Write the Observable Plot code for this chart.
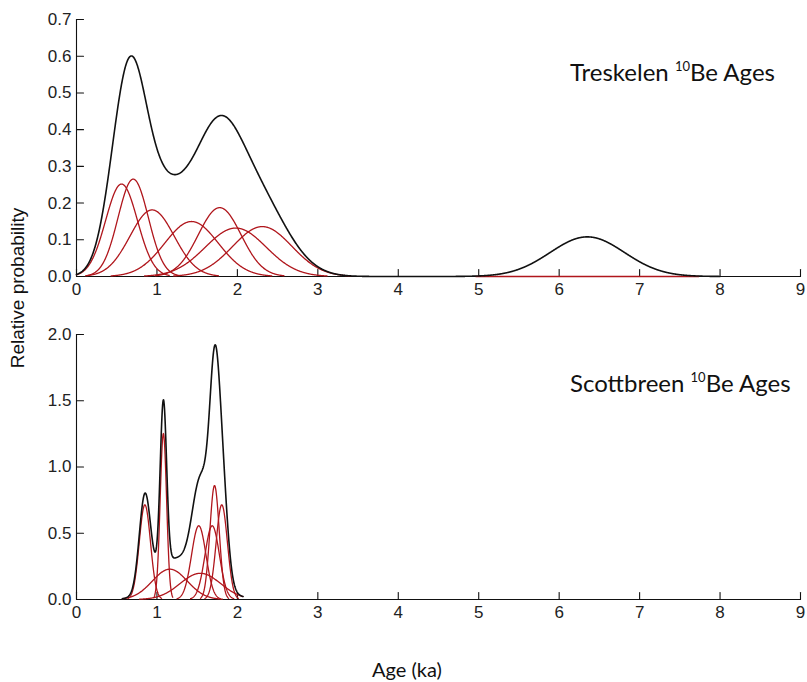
<!DOCTYPE html>
<html>
<head>
<meta charset="utf-8">
<script src="https://cdn.jsdelivr.net/npm/d3@7"></script>
<script src="https://cdn.jsdelivr.net/npm/@observablehq/plot@0.6"></script>
<style>
  body { margin: 0; background: #fff; }
  #wrap { position: relative; width: 807px; height: 682px; overflow: hidden; }
  #wrap svg.plot { display: block; position: absolute; left: 0; }
  #overlay { position: absolute; left: 0; top: 0; pointer-events: none; }
</style>
</head>
<body>
<div id="wrap"></div>
<script>
// ---------------- data ----------------
const xTicks = [0, 1, 2, 3, 4, 5, 6, 7, 8, 9];

// Treskelen 10Be ages (ka) and 1-sigma uncertainties (ka)
const treskelenAges   = [0.56, 0.705, 0.94, 1.43, 1.78, 1.98, 2.31, 6.35];
const treskelenErrors = [0.198, 0.188, 0.275, 0.333, 0.266, 0.378, 0.367, 0.462];
const treskelenShown  = [1, 1, 1, 1, 1, 1, 1, 0];   // outlier drawn flat in red
const treskelenRange  = [0, 8];
const treskelenYTicks = [0, 0.1, 0.2, 0.3, 0.4, 0.5, 0.6, 0.7];

// Scottbreen 10Be ages (ka) and 1-sigma uncertainties (ka)
const scottAges   = [0.85, 1.08, 1.16, 1.54, 1.52, 1.687, 1.716, 1.806];
const scottErrors = [0.0698, 0.0398, 0.218, 0.252, 0.0896, 0.0896, 0.058, 0.0698];
const scottShown  = [1, 1, 1, 1, 1, 1, 1, 1];
const scottRange  = [0.57, 2.07];
const scottYTicks = [0, 0.5, 1.0, 1.5, 2.0];

const titles = ["Treskelen", "Scottbreen"];

// ---------------- helpers ----------------
const RED = "#b0161c";
const STEP = 0.004;

function pdf(x, m, s, n) {
  return Math.exp(-0.5 * ((x - m) / s) ** 2) / (n * s * Math.sqrt(2 * Math.PI));
}

function buildCurves(ages, errs, shown, range) {
  const n = ages.length;
  const reds = [];
  ages.forEach((m, i) => {
    const s = errs[i];
    const lo = Math.max(range[0], m - 3 * s), hi = Math.min(range[1], m + 3 * s);
    for (let x = lo; x <= hi + 1e-9; x += STEP) {
      reds.push({id: i, x, y: shown[i] * pdf(x, m, s, n)});
    }
  });
  const sum = [];
  for (let x = range[0]; x <= range[1] + 1e-9; x += STEP) {
    let y = 0;
    for (let i = 0; i < n; i++) y += pdf(x, ages[i], errs[i], n);
    sum.push({x, y});
  }
  return {reds, sum};
}

const tickShape = {
  draw(context, l) { context.moveTo(0, 0); context.lineTo(0, -l); }
};

function panel({ages, errs, shown, range, yTicks, yFmt, height, marginTop, marginBottom}) {
  const {reds, sum} = buildCurves(ages, errs, shown, range);
  return Plot.plot({
    width: 807,
    height,
    marginLeft: 76,
    marginRight: 7,
    marginTop,
    marginBottom,
    style: {fontFamily: "'Liberation Sans', Arial, sans-serif", fontSize: "17px", color: "#222", background: "white", overflow: "visible"},
    x: {domain: [0, 9]},
    y: {domain: [0, yTicks[yTicks.length - 1]]},
    marks: [
      Plot.ruleY([0], {stroke: "#111", strokeWidth: 1.1}),
      Plot.ruleX([0], {stroke: "#111", strokeWidth: 1.1}),
      Plot.vector(xTicks, {x: d => d, y: 0, length: 7, anchor: "start", shape: tickShape, stroke: "#111", strokeWidth: 1.1}),
      Plot.vector(yTicks, {x: 0, y: d => d, length: 7, rotate: 90, anchor: "start", shape: tickShape, stroke: "#111", strokeWidth: 1.1}),
      Plot.axisX({ticks: xTicks, tickSize: 0, tickPadding: 6, label: null, tickFormat: d3.format("d"), fill: "#222", fontSize: 17}),
      Plot.axisY({ticks: yTicks, tickSize: 0, tickPadding: 5, label: null, tickFormat: d3.format(yFmt), fill: "#222", fontSize: 17}),
      Plot.line(reds, {x: "x", y: "y", z: "id", stroke: RED, strokeWidth: 1.3, curve: "linear"}),
      Plot.line(sum, {x: "x", y: "y", stroke: "#111", strokeWidth: 1.6, curve: "linear"})
    ]
  });
}

const wrap = document.getElementById("wrap");

const top1 = panel({ages: treskelenAges, errs: treskelenErrors, shown: treskelenShown, range: treskelenRange,
  yTicks: treskelenYTicks, yFmt: ".1f", height: 305, marginTop: 19, marginBottom: 29});
top1.classList.add("plot");
top1.style.top = "0px";
wrap.appendChild(top1);

const bot = panel({ages: scottAges, errs: scottErrors, shown: scottShown, range: scottRange,
  yTicks: scottYTicks, yFmt: ".1f", height: 335, marginTop: 29, marginBottom: 41});
bot.classList.add("plot");
bot.style.top = "305px";
wrap.appendChild(bot);

// overlay for titles and shared axis labels
const ov = d3.select(wrap).append("svg").attr("id", "overlay").attr("width", 807).attr("height", 682);

function title(name, x, y) {
  const t = ov.append("text").attr("x", x).attr("y", y)
    .attr("font-family", "Lato, 'Open Sans', sans-serif").attr("font-size", 24).attr("fill", "#111");
  t.append("tspan").text(name + " ");
  t.append("tspan").attr("font-size", 13).attr("dy", -10).text("10");
  t.append("tspan").attr("dy", 10).text("Be Ages");
}
title(titles[0], 570, 81);
title(titles[1], 570, 392);

ov.append("text")
  .attr("transform", "translate(24,288) rotate(-90)")
  .attr("text-anchor", "middle")
  .attr("font-family", "'Liberation Sans', Arial, sans-serif")
  .attr("font-size", 19).attr("fill", "#111")
  .text("Relative probability");

ov.append("text")
  .attr("x", 372).attr("y", 677)
  .attr("font-family", "Lato, 'Open Sans', sans-serif")
  .attr("font-size", 20).attr("fill", "#111")
  .text("Age (ka)");
</script>
</body>
</html>
